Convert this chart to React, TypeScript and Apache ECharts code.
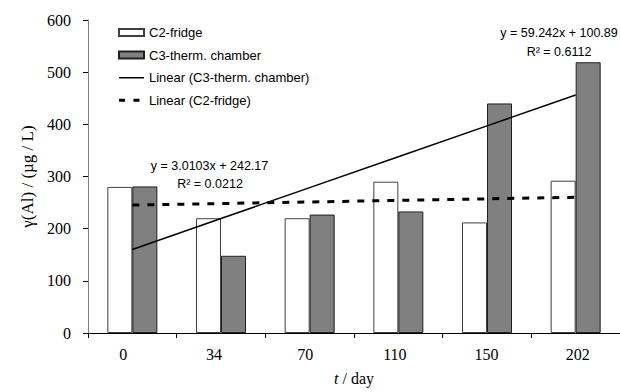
import React, { useEffect, useRef } from "react";
import * as echarts from "echarts";

const categories = ["0", "34", "70", "110", "150", "202"];
const c2Fridge = [280, 220, 220, 290, 212, 292];
const c3Chamber = [281, 148, 227, 233, 440, 519];
const trendC3 = [160.1, 219.4, 278.6, 337.8, 397.1, 456.3];
const trendC2 = [245.2, 248.2, 251.2, 254.2, 257.2, 260.2];
const yTicks = { min: 0, max: 600, interval: 100 };
const eqC3 = ["y = 59.242x + 100.89", "R² = 0.6112"];
const eqC2 = ["y = 3.0103x + 242.17", "R² = 0.0212"];

const SERIF = "'Liberation Serif', 'Times New Roman', serif";
const SANS = "'Liberation Sans', Arial, sans-serif";

// small horizontal nudges of the category labels, as in the reference
const labelPads = [
  [0, 18, 0, 0],
  [0, 14, 0, 0],
  [0, 9, 0, 0],
  [0, 7, 0, 0],
  [0, 1, 0, 0],
  [0, 0, 0, 4],
];

const SOLID_ICON = "path://M0,0L0,0Z M25,7L25,7Z M0,2.75L25,2.75L25,4.25L0,4.25Z";
const DASH_ICON = "path://M0,0L0,0Z M25,7L25,7Z M0,2L6,2L6,5L0,5Z M14.5,2L20.5,2L20.5,5L14.5,5Z";

export default function App() {
  const ref = useRef<HTMLDivElement>(null);
  useEffect(() => {
    if (!ref.current) return;
    const chart = echarts.init(ref.current, null, { renderer: "svg" });
    const rich: Record<string, any> = {};
    labelPads.forEach((p, i) => {
      rich["c" + i] = { fontFamily: SERIF, fontSize: 16, color: "#000", padding: p };
    });
    chart.setOption({
      animation: false,
      backgroundColor: "#ffffff",
      grid: { left: 88, right: 0, top: 20, bottom: 59, containLabel: false },
      legend: {
        orient: "vertical",
        left: 113,
        top: 21,
        itemWidth: 25,
        itemHeight: 7,
        itemGap: 9.6,
        symbolKeepAspect: true,
        textStyle: { fontFamily: SANS, fontSize: 13, color: "#000" },
        data: [
          { name: "C2-fridge", icon: "rect" },
          { name: "C3-therm. chamber", icon: "rect" },
          { name: "Linear (C3-therm. chamber)", icon: SOLID_ICON, itemStyle: { color: "#000", borderWidth: 0 } },
          { name: "Linear (C2-fridge)", icon: DASH_ICON, itemStyle: { color: "#000", borderWidth: 0 } },
        ],
      },
      xAxis: {
        type: "category",
        data: categories,
        axisLine: { show: true, lineStyle: { color: "#000", width: 1 } },
        axisTick: { show: true, length: 5, alignWithLabel: false, lineStyle: { color: "#000" } },
        axisLabel: {
          fontFamily: SERIF,
          fontSize: 16,
          color: "#000",
          margin: 13,
          formatter: (v: string, i: number) => `{c${i}|${v}}`,
          rich,
        },
        name: "{i|t} / day",
        nameLocation: "middle",
        nameGap: 37,
        nameTextStyle: {
          fontFamily: SERIF,
          fontSize: 16,
          color: "#000",
          rich: { i: { fontFamily: SERIF, fontSize: 16, fontStyle: "italic", color: "#000" } },
        },
      },
      yAxis: {
        type: "value",
        min: yTicks.min,
        max: yTicks.max,
        interval: yTicks.interval,
        splitLine: { show: false },
        axisLine: { show: true, lineStyle: { color: "#808080", width: 1 } },
        axisTick: { show: true, length: 5, lineStyle: { color: "#000" } },
        axisLabel: { fontFamily: SERIF, fontSize: 16, color: "#000", margin: 17 },
        name: "γ(Al) / (µg / L)",
        nameLocation: "middle",
        nameGap: 52,
        nameTextStyle: { fontFamily: SERIF, fontSize: 17, color: "#000" },
      },
      series: [
        {
          name: "C2-fridge",
          type: "bar",
          data: c2Fridge,
          barWidth: 25,
          barGap: "0%",
          itemStyle: { color: "#ffffff", borderColor: "#404040", borderWidth: 1 },
        },
        {
          name: "C3-therm. chamber",
          type: "bar",
          data: c3Chamber,
          barWidth: 25,
          barGap: "0%",
          itemStyle: { color: "#808080", borderColor: "#202020", borderWidth: 1 },
        },
        {
          name: "Linear (C3-therm. chamber)",
          type: "line",
          data: trendC3,
          symbol: "none",
          lineStyle: { color: "#000", width: 1.5, type: "solid" },
          itemStyle: { color: "#000" },
          z: 5,
        },
        {
          name: "Linear (C2-fridge)",
          type: "line",
          data: trendC2,
          symbol: "none",
          lineStyle: { color: "#000", width: 3, type: [7, 8] },
          itemStyle: { color: "#000" },
          z: 5,
        },
      ],
      graphic: [
        { type: "text", x: 559, y: 33, style: { text: eqC3[0], font: `12.5px ${SANS}`, fill: "#000", textAlign: "center", textVerticalAlign: "middle" } },
        { type: "text", x: 559, y: 51.5, style: { text: eqC3[1], font: `12.5px ${SANS}`, fill: "#000", textAlign: "center", textVerticalAlign: "middle" } },
        { type: "text", x: 209.5, y: 166, style: { text: eqC2[0], font: `12.5px ${SANS}`, fill: "#000", textAlign: "center", textVerticalAlign: "middle" } },
        { type: "text", x: 210, y: 183.5, style: { text: eqC2[1], font: `12.5px ${SANS}`, fill: "#000", textAlign: "center", textVerticalAlign: "middle" } },
      ],
    });
    return () => chart.dispose();
  }, []);
  return (
    <div
      ref={ref}
      style={{ position: "fixed", left: 0, top: 0, width: 620, height: 392, background: "#fff" }}
    />
  );
}
